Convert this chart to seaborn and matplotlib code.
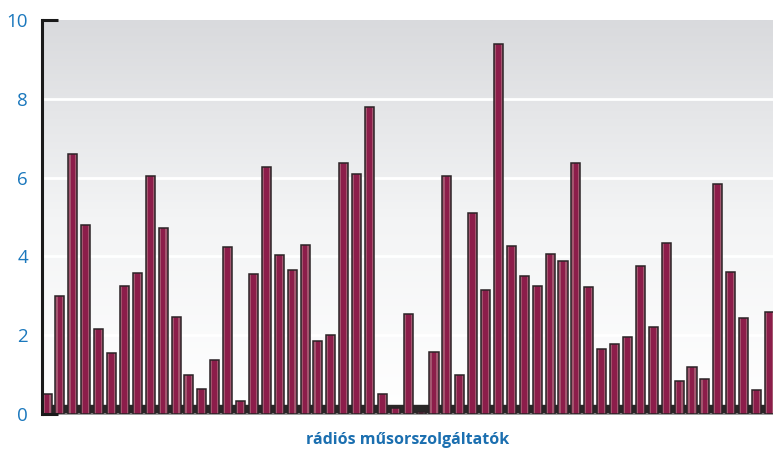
import numpy as np
import pandas as pd
import matplotlib
matplotlib.use("Agg")
import matplotlib.pyplot as plt
import seaborn as sns
from matplotlib.colors import LinearSegmentedColormap

values = [0.5, 3.0, 6.6, 4.8, 2.15, 1.55, 3.25, 3.57, 6.05, 4.73,
          2.46, 1.0, 0.63, 1.37, 4.23, 0.33, 3.55, 6.28, 4.03, 3.65,
          4.28, 1.85, 2.0, 6.38, 6.1, 7.8, 0.5, 0.15, 2.53, 0.05,
          1.57, 6.05, 1.0, 5.1, 3.15, 9.4, 4.26, 3.5, 3.24, 4.07,
          3.88, 6.36, 3.22, 1.65, 1.77, 1.95, 3.75, 2.2, 4.33, 0.83,
          1.19, 0.9, 5.85, 3.6, 2.44, 0.6, 2.58]
categories = [f"R{i+1}" for i in range(len(values))]
y_ticks = [0, 2, 4, 6, 8, 10]
x_label = "rádiós műsorszolgáltatók"

df = pd.DataFrame({"cat": categories, "val": values})

sns.set_theme(style="white")
plt.rcParams['font.family'] = ['Open Sans', 'DejaVu Sans']

fig = plt.figure(figsize=(7.73, 4.5), dpi=100)
ax = fig.add_axes([42/773, 1-414/450, 1-42/773, (414-20)/450])

# gradient background
grad = np.linspace(0, 1, 256).reshape(-1, 1)
cmap = LinearSegmentedColormap.from_list("bg", ["#ffffff", "#f3f4f5", "#d9dadd"])
ax.imshow(grad, aspect="auto", cmap=cmap, origin="lower",
          extent=[-0.39, 56.28, 0, 10], zorder=0)

for t in y_ticks[1:-1]:
    ax.axhline(t, color="white", lw=2, zorder=1)

# dark floor band
ax.axhspan(0, 0.22, color="#2a2727", zorder=1.5)

sns.barplot(data=df, x="cat", y="val", ax=ax, width=0.7, color="#a3566f",
            saturation=1, edgecolor="none", linewidth=0, zorder=2)
sns.barplot(data=df, x="cat", y="val", ax=ax, width=0.36, color="#8c1d4a",
            saturation=1, edgecolor="none", linewidth=0, zorder=3)
sns.barplot(data=df, x="cat", y="val", ax=ax, width=0.7, fill=False,
            edgecolor="#2b2326", linewidth=1.1, zorder=4)

ax.set_xlim(-0.39, 56.28)
ax.set_ylim(0, 10)
ax.set_yticks(y_ticks)
ax.set_yticklabels([str(t) for t in y_ticks], color="#1b78bd", fontsize=13.5)
ax.tick_params(axis="y", length=0, pad=10)
ax.set_xticks([])
ax.set_ylabel("")
ax.set_xlabel(x_label, color="#1b6fb0", fontsize=11.5, fontweight="bold", labelpad=13)

for s in ["top", "right"]:
    ax.spines[s].set_visible(False)
ax.spines["left"].set_color("#1a1a1a")
ax.spines["left"].set_linewidth(2.2)
ax.spines["left"].set_zorder(6)
ax.spines["bottom"].set_color("#8a8a8a")
ax.spines["bottom"].set_linewidth(1.2)

# short marks at top and bottom of left axis
ax.plot([0, 0.022], [1, 1], transform=ax.transAxes, color="#1a1a1a", lw=2.2,
        clip_on=False, zorder=7, solid_capstyle="butt")
ax.plot([0, 0.022], [0, 0], transform=ax.transAxes, color="#1a1a1a", lw=2.2,
        clip_on=False, zorder=7, solid_capstyle="butt")

fig.savefig("out.png", dpi=100)
